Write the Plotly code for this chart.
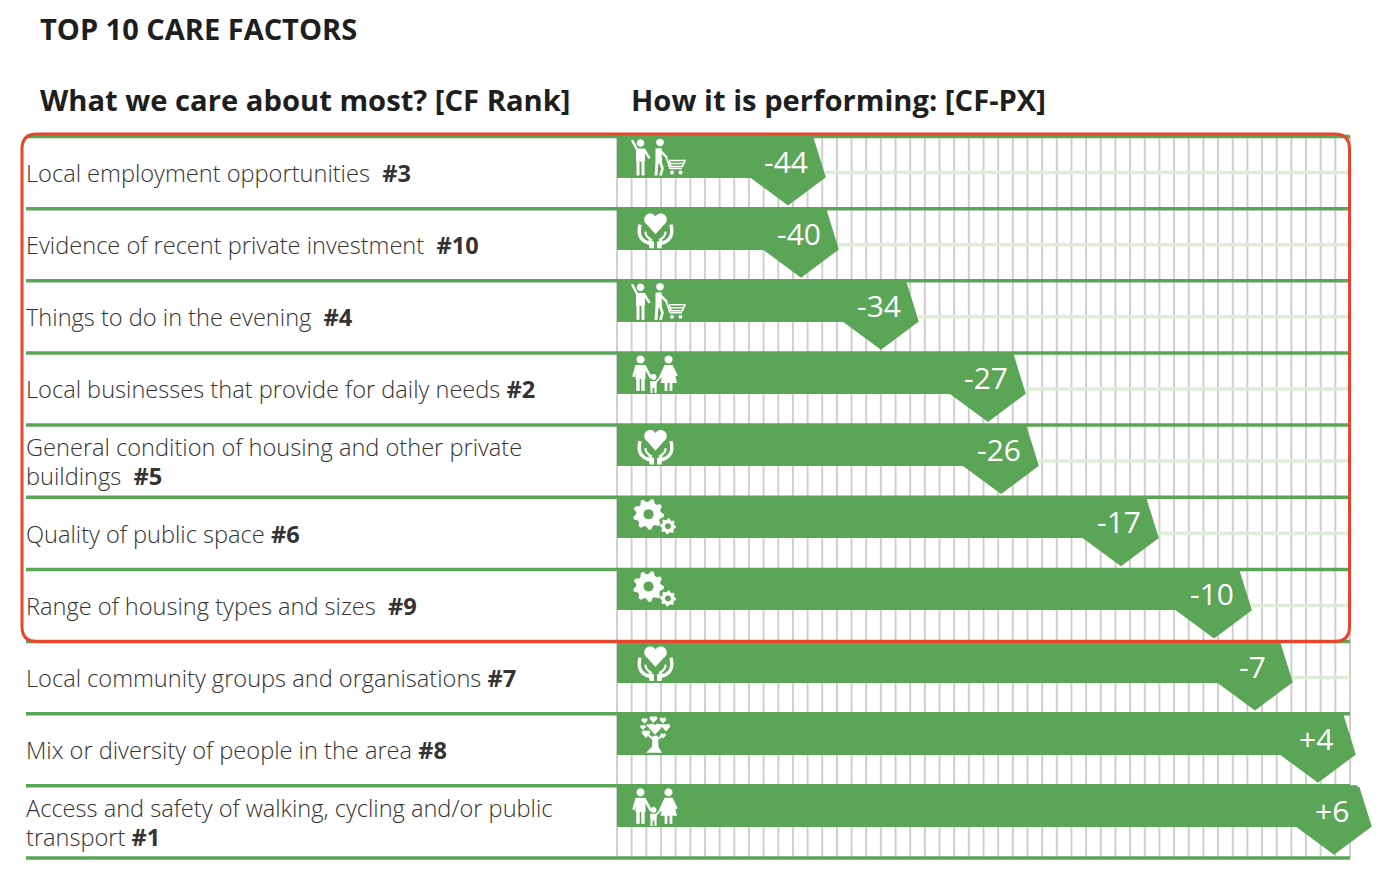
import math
import plotly.graph_objects as go

W, H = 1379, 878

# ---- data ----
factors = [
    "Local employment opportunities\u00a0\u00a0",
    "Evidence of recent private investment\u00a0\u00a0",
    "Things to do in the evening\u00a0\u00a0",
    "Local businesses that provide for daily needs\u00a0",
    "General condition of housing and other private<br>buildings\u00a0\u00a0",
    "Quality of public space\u00a0",
    "Range of housing types and sizes\u00a0\u00a0",
    "Local community groups and organisations\u00a0",
    "Mix or diversity of people in the area\u00a0",
    "Access and safety of walking, cycling and/or public<br>transport\u00a0",
]
ranks = ["#3", "#10", "#4", "#2", "#5", "#6", "#9", "#7", "#8", "#1"]
value_labels = ["-44", "-40", "-34", "-27", "-26", "-17", "-10", "-7", "+4", "+6"]
# bar length, in grid cells
bar_ends = [14.19, 15.08, 20.53, 27.83, 28.72, 36.9, 43.25, 46.04, 50.34, 51.43]
icons = ["cart", "care", "cart", "family", "care", "gears", "gears", "care", "tree", "family"]

title_main = "TOP 10 CARE FACTORS"
head_left = "What we care about most? [CF Rank]"
head_right = "How it is performing: [CF-PX]"

# ---- page geometry (pixels) ----
X0, CELL = 617.0, 14.66
Y0, ROW = 136.5, 72.15
N_CELLS = 50
GREEN = "#5aa656"
PALE = "#dfecd8"
GRID = "#cfcfcf"
RED = "#e8452c"
INK = "#1e1e1e"
FONT = "Open Sans"

xr = [(0 - X0) / CELL, (W - X0) / CELL]
yr = [(H - Y0) / ROW, (0 - Y0) / ROW]
px_x = lambda d: d / CELL
px_y = lambda d: d / ROW
rows = list(range(len(factors)))

fig = go.Figure()

# pale guide lines from each bar's tip to the end of the grid
gx, gy = [], []
for r, e in zip(rows, bar_ends):
    if e < N_CELLS:
        gx += [e, N_CELLS, None]
        gy += [r + px_y(36), r + px_y(36), None]
fig.add_trace(go.Scatter(x=gx, y=gy, mode="lines", line=dict(color=PALE, width=3.5), hoverinfo="skip"))

# row separators
sx, sy = [], []
for r in range(len(factors) + 1):
    sx += [px_x(26 - X0), N_CELLS, None]
    sy += [r, r, None]
fig.add_trace(go.Scatter(x=sx, y=sy, mode="lines", line=dict(color=GREEN, width=3.5), hoverinfo="skip"))

# bars
fig.add_trace(go.Bar(
    orientation="h",
    x=[e - px_x(37) for e in bar_ends],
    y=[r + px_y(20.5) for r in rows],
    width=px_y(41),
    marker=dict(color=GREEN, line=dict(width=0)),
    hoverinfo="skip",
))

# pentagon heads, placed from each bar's end
for r, e in zip(rows, bar_ends):
    offs = [(-13.5, 1.5), (-1.5, 40), (-37, 66.5), (-73, 40), (-61, 1.5), (-13.5, 1.5)]
    fig.add_trace(go.Scatter(
        x=[e + px_x(a) for a, b in offs],
        y=[r + px_y(b) for a, b in offs],
        mode="lines", fill="toself", fillcolor=GREEN,
        line=dict(color=GREEN, width=4), hoverinfo="skip", cliponaxis=False,
    ))

ann = []
def text(xp, yp, s, size, color=INK, weight=None, anchor="left"):
    ann.append(dict(
        xref="paper", yref="paper", x=xp / W, y=1 - yp / H, text=s, showarrow=False,
        xanchor=anchor, yanchor="middle", align="left",
        font=dict(family=FONT, size=size, color=color, weight=weight),
    ))

text(38, 28.5, title_main, 29, weight=700)
text(38, 100.5, head_left, 29.2, weight=700)
text(629, 100.5, head_right, 29.2, weight=700)

for r, f, k in zip(rows, factors, ranks):
    mid = Y0 + r * ROW + 36.4
    label = f"{f}<b>{k}</b>"
    if "<br>" in label:
        first, second = label.split("<br>")
        text(24, mid - 14.5, first, 23.6, color="#333333", weight=300)
        text(24, mid + 14.5, second, 23.6, color="#333333", weight=300)
    else:
        text(24, mid, label, 23.6, color="#333333", weight=300)

for r, e, v in zip(rows, bar_ends, value_labels):
    ann.append(dict(
        x=e + px_x(-39), y=r + px_y(24.5), xref="x", yref="y", text=v, showarrow=False,
        xanchor="center", yanchor="middle",
        font=dict(family=FONT, size=30, color="white"),
    ))

# vertical grid behind the bars, only as tall as the table
shapes = []
for c in range(N_CELLS + 1):
    shapes.append(dict(type="line", xref="x", yref="y", x0=c, x1=c, y0=0, y1=len(factors),
                       layer="below", line=dict(color=GRID, width=2)))

# ---- decorative pictograms and frame, drawn in page pixels ----
def P(x, y):
    return f"{x / W:.5f},{1 - y / H:.5f}"

def poly(pts):
    return "M" + " L".join(P(x, y) for x, y in pts) + " Z"

def circle(cx, cy, r, n=20):
    return poly([(cx + r * math.cos(2 * math.pi * i / n), cy + r * math.sin(2 * math.pi * i / n)) for i in range(n)])

def seg(pts):
    return "M" + " L".join(P(x, y) for x, y in pts)

def curve(a, c, b):
    return f"M{P(*a)} Q{P(*c)} {P(*b)}"

def fill(path, color="white"):
    shapes.append(dict(type="path", xref="paper", yref="paper", path=path, fillcolor=color,
                       line=dict(width=0), layer="above"))

def stroke(path, w, color="white"):
    shapes.append(dict(type="path", xref="paper", yref="paper", path=path,
                       line=dict(color=color, width=w), layer="above"))

def heart(cx, cy, s):
    lobes = [(-0.5, -0.3), (0.5, -0.3)]
    for dx, dy in lobes:
        fill(circle(cx + dx * s, cy + dy * s, 0.58 * s, 14))
    fill(poly([(cx - 1.06 * s, cy - 0.1 * s), (cx + 1.06 * s, cy - 0.1 * s), (cx, cy + 1.1 * s)]))

def icon_cart(t):
    # waving man
    fill(circle(640.5, t + 6.5, 3.8))
    fill(poly([(636, t + 12), (645, t + 12), (645, t + 25), (636, t + 25)]))
    stroke(seg([(637, t + 13), (632, t + 3.5)]), 2.4)
    stroke(seg([(644, t + 13), (649.5, t + 22)]), 2.4)
    stroke(seg([(638, t + 24), (638, t + 39)]), 3)
    stroke(seg([(643, t + 24), (643, t + 39)]), 3)
    # shopper
    fill(circle(660, t + 6, 3.8))
    fill(poly([(655.5, t + 12), (661.5, t + 11.5), (662, t + 27), (655.5, t + 27)]))
    stroke(seg([(660, t + 14), (667, t + 21)]), 2.4)
    stroke(seg([(657, t + 26), (656, t + 39)]), 3)
    stroke(seg([(660.5, t + 26), (662.5, t + 32), (660.5, t + 39)]), 2.6)
    # trolley
    stroke(seg([(666, t + 20), (670, t + 32), (682, t + 32)]), 1.6)
    stroke(seg([(669, t + 24), (685, t + 24), (682.5, t + 30), (671, t + 30), (669, t + 24)]), 1.6)
    stroke(seg([(670, t + 27), (683.5, t + 27)]), 1.4)
    fill(circle(672, t + 36, 2, 10))
    fill(circle(680.5, t + 36, 2, 10))

def icon_care(t):
    heart(655.5, t + 14, 10.5)
    stroke(curve((640, t + 16), (636, t + 32), (651, t + 35)), 3.4)
    stroke(curve((671, t + 16), (675, t + 32), (660, t + 35)), 3.4)
    fill(poly([(648.5, t + 31), (654, t + 33), (654, t + 39.5), (649.5, t + 39.5)]))
    fill(poly([(662.5, t + 31), (657, t + 33), (657, t + 39.5), (661.5, t + 39.5)]))
    stroke(curve((645.5, t + 23), (645, t + 28), (652, t + 31.5)), 2.2)
    stroke(curve((665.5, t + 23), (666, t + 28), (659, t + 31.5)), 2.2)

def icon_family(t):
    # father
    fill(circle(640.5, t + 6.5, 4))
    fill(poly([(635.5, t + 12), (645.5, t + 12), (645.5, t + 26), (635.5, t + 26)]))
    stroke(seg([(636.5, t + 13), (633.5, t + 24)]), 2.6)
    stroke(seg([(644.5, t + 13), (651, t + 25)]), 2.6)
    stroke(seg([(638, t + 25), (638, t + 38)]), 3.4)
    stroke(seg([(643, t + 25), (643, t + 38)]), 3.4)
    # child
    fill(circle(653.5, t + 24, 3))
    fill(poly([(650, t + 28), (657, t + 28), (656.5, t + 35), (650.5, t + 35)]))
    stroke(seg([(651.5, t + 35), (651.5, t + 40)]), 2.2)
    stroke(seg([(655.5, t + 35), (655.5, t + 40)]), 2.2)
    stroke(seg([(656, t + 29), (660, t + 25)]), 1.8)
    # mother
    fill(circle(668.5, t + 6.5, 4))
    fill(poly([(664.5, t + 12), (672.5, t + 12), (677, t + 30), (660.5, t + 30)]))
    stroke(seg([(665.5, t + 13), (660, t + 25)]), 2.6)
    stroke(seg([(671.5, t + 13), (676.5, t + 23)]), 2.6)
    stroke(seg([(666, t + 29), (666, t + 38)]), 2.8)
    stroke(seg([(671, t + 29), (671, t + 38)]), 2.8)

def gear(cx, cy, r, hole, teeth):
    pts = []
    for i in range(teeth * 4):
        a = 2 * math.pi * i / (teeth * 4)
        rad = r if i % 4 in (0, 1) else r * 0.8
        pts.append((cx + rad * math.cos(a), cy + rad * math.sin(a)))
    fill(poly(pts))
    fill(circle(cx, cy, hole), GREEN)

def icon_gears(t):
    gear(648.5, t + 17, 15.5, 5, 9)
    gear(668, t + 29, 8, 3, 8)

def icon_tree(t):
    fill(poly([(652.5, t + 22), (658, t + 22), (658.5, t + 33), (662, t + 39), (646, t + 39), (652, t + 33)]))
    stroke(seg([(655, t + 27), (648, t + 21)]), 2)
    stroke(seg([(656, t + 27), (663, t + 21)]), 2)
    for cx, cy, s in [(655, 15, 5.6), (653.5, 5.5, 3.5), (663, 6.5, 3), (644.5, 7, 2.8), (666, 13.5, 3.8),
                      (646, 20, 3.8), (663, 22, 2.6), (643, 13.5, 2.6), (661, 12, 1.8), (648.5, 12, 1.8)]:
        heart(cx, t + cy, s)

draw = dict(cart=icon_cart, care=icon_care, family=icon_family, gears=icon_gears, tree=icon_tree)
for r, name in zip(rows, icons):
    draw[name](Y0 + r * ROW)

# red highlight frame
L, T, R_, B, c = 22, 134, 1349.5, 641.5, 15
shapes.append(dict(
    type="path", xref="paper", yref="paper", layer="above", line=dict(color=RED, width=3),
    path=f"M{P(L + c, T)} L{P(R_ - c, T)} Q{P(R_, T)} {P(R_, T + c)} L{P(R_, B - c)} Q{P(R_, B)} {P(R_ - c, B)} "
         f"L{P(L + c, B)} Q{P(L, B)} {P(L, B - c)} L{P(L, T + c)} Q{P(L, T)} {P(L + c, T)} Z",
))

fig.update_layout(
    width=W, height=H, margin=dict(l=0, r=0, t=0, b=0),
    paper_bgcolor="white", plot_bgcolor="white",
    showlegend=False, bargap=0,
    xaxis=dict(range=xr, showgrid=False, zeroline=False, showticklabels=False, ticks="", fixedrange=True),
    yaxis=dict(range=yr, showgrid=False, zeroline=False, showticklabels=False, ticks="", fixedrange=True),
    annotations=ann, shapes=shapes,
)
fig.write_html("out.html", post_script="document.body.style.margin='0';", config=dict(displayModeBar=False))
